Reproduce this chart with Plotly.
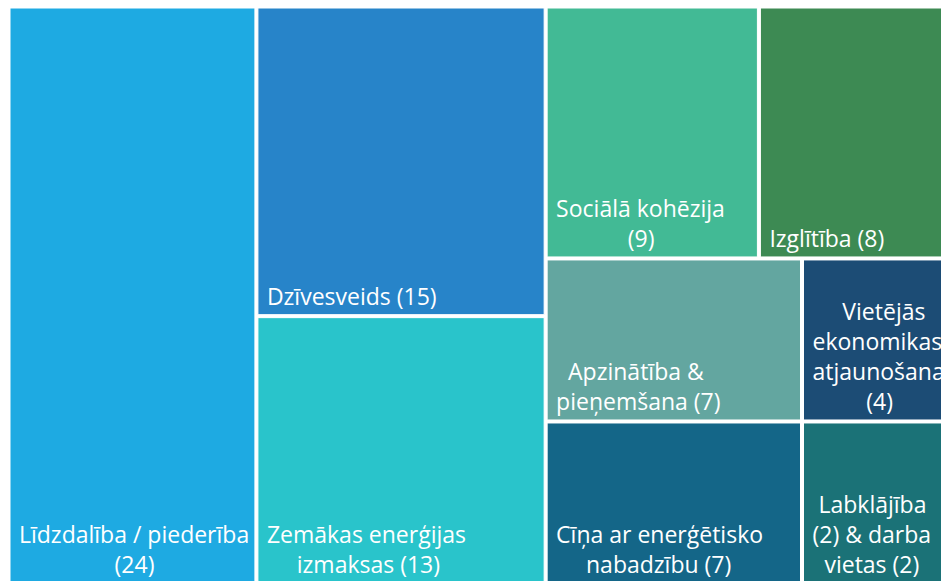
import plotly.graph_objects as go

# ---- data -------------------------------------------------------------
categories = [
    "Līdzdalība / piederība",
    "Dzīvesveids",
    "Zemākas enerģijas izmaksas",
    "Sociālā kohēzija",
    "Izglītība",
    "Apzinātība & pieņemšana",
    "Cīņa ar enerģētisko nabadzību",
    "Vietējās ekonomikas atjaunošana",
    "Labklājība (2) & darba vietas (2)",
]
values = [24, 15, 13, 9, 8, 7, 7, 4, 4]

# label text as shown on the tiles (line by line)
label_lines = [
    ["Līdzdalība / piederība", "(24)"],
    ["Dzīvesveids (15)"],
    ["Zemākas enerģijas", "izmaksas (13)"],
    ["Sociālā kohēzija", "(9)"],
    ["Izglītība (8)"],
    ["Apzinātība &", "pieņemšana (7)"],
    ["Cīņa ar enerģētisko", "nabadzību (7)"],
    ["Vietējās", "ekonomikas", "atjaunošana", "(4)"],
    ["Labklājība", "(2) & darba", "vietas (2)"],
]

# layout grouping (invisible helper nodes reproduce the tile arrangement)
leaf_parent = ["g0", "g1", "g1", "g21", "g21", "g221", "g221", "g222", "g222"]
group_ids = ["root", "g0", "g1", "g2", "g21", "g22", "g221", "g222"]
group_parents = ["", "root", "root", "root", "g2", "g2", "g22", "g22"]

# ---- style ------------------------------------------------------------
tile_colors = [
    "#1eaae2", "#2784c9", "#29c4cb", "#42ba95", "#3d8a53",
    "#63a6a0", "#146688", "#1c4c75", "#1b7277",
]
# leading non-breaking spaces used to centre lines inside each text block
line_indent = [
    [0, 16], [0], [0, 5], [0, 12], [0], [2, 0], [0, 5], [5, 0, 0, 9], [1, 0, 2],
]
base_indent = 1

NB = "\u00a0"
texts = []
for lines, ind in zip(label_lines, line_indent):
    texts.append("<br>".join(NB * (n + base_indent) + s for s, n in zip(lines, ind)))

leaf_ids = ["leaf%d" % i for i in range(len(categories))]

ids = group_ids + leaf_ids
parents = group_parents + leaf_parent
labels = [""] * len(group_ids) + categories
vals = [0] * len(group_ids) + values
colors = ["#ffffff"] * len(group_ids) + tile_colors
node_text = [""] * len(group_ids) + texts

fig = go.Figure(
    go.Treemap(
        ids=ids,
        parents=parents,
        labels=labels,
        values=vals,
        branchvalues="remainder",
        sort=False,
        text=node_text,
        texttemplate="%{text}",
        textposition="bottom left",
        textfont=dict(family="Open Sans", size=23, color="white"),
        marker=dict(
            colors=colors,
            line=dict(color="white", width=1),
            pad=dict(t=0, l=0, r=0, b=0),
            depthfade=False,
        ),
        tiling=dict(packing="slice-dice", pad=3),
        pathbar=dict(visible=False),
        hoverinfo="skip",
        root=dict(color="white"),
    )
)

fig.update_layout(
    width=947,
    height=583,
    margin=dict(l=10, r=0, t=8, b=0, pad=0),
    paper_bgcolor="white",
    uniformtext=dict(minsize=23, mode="show"),
    showlegend=False,
)

fig.write_html(
    "out.html",
    config={"displayModeBar": False},
    post_script=(
        "document.documentElement.style.overflow='hidden';"
        "document.body.style.margin='0';"
    ),
)
